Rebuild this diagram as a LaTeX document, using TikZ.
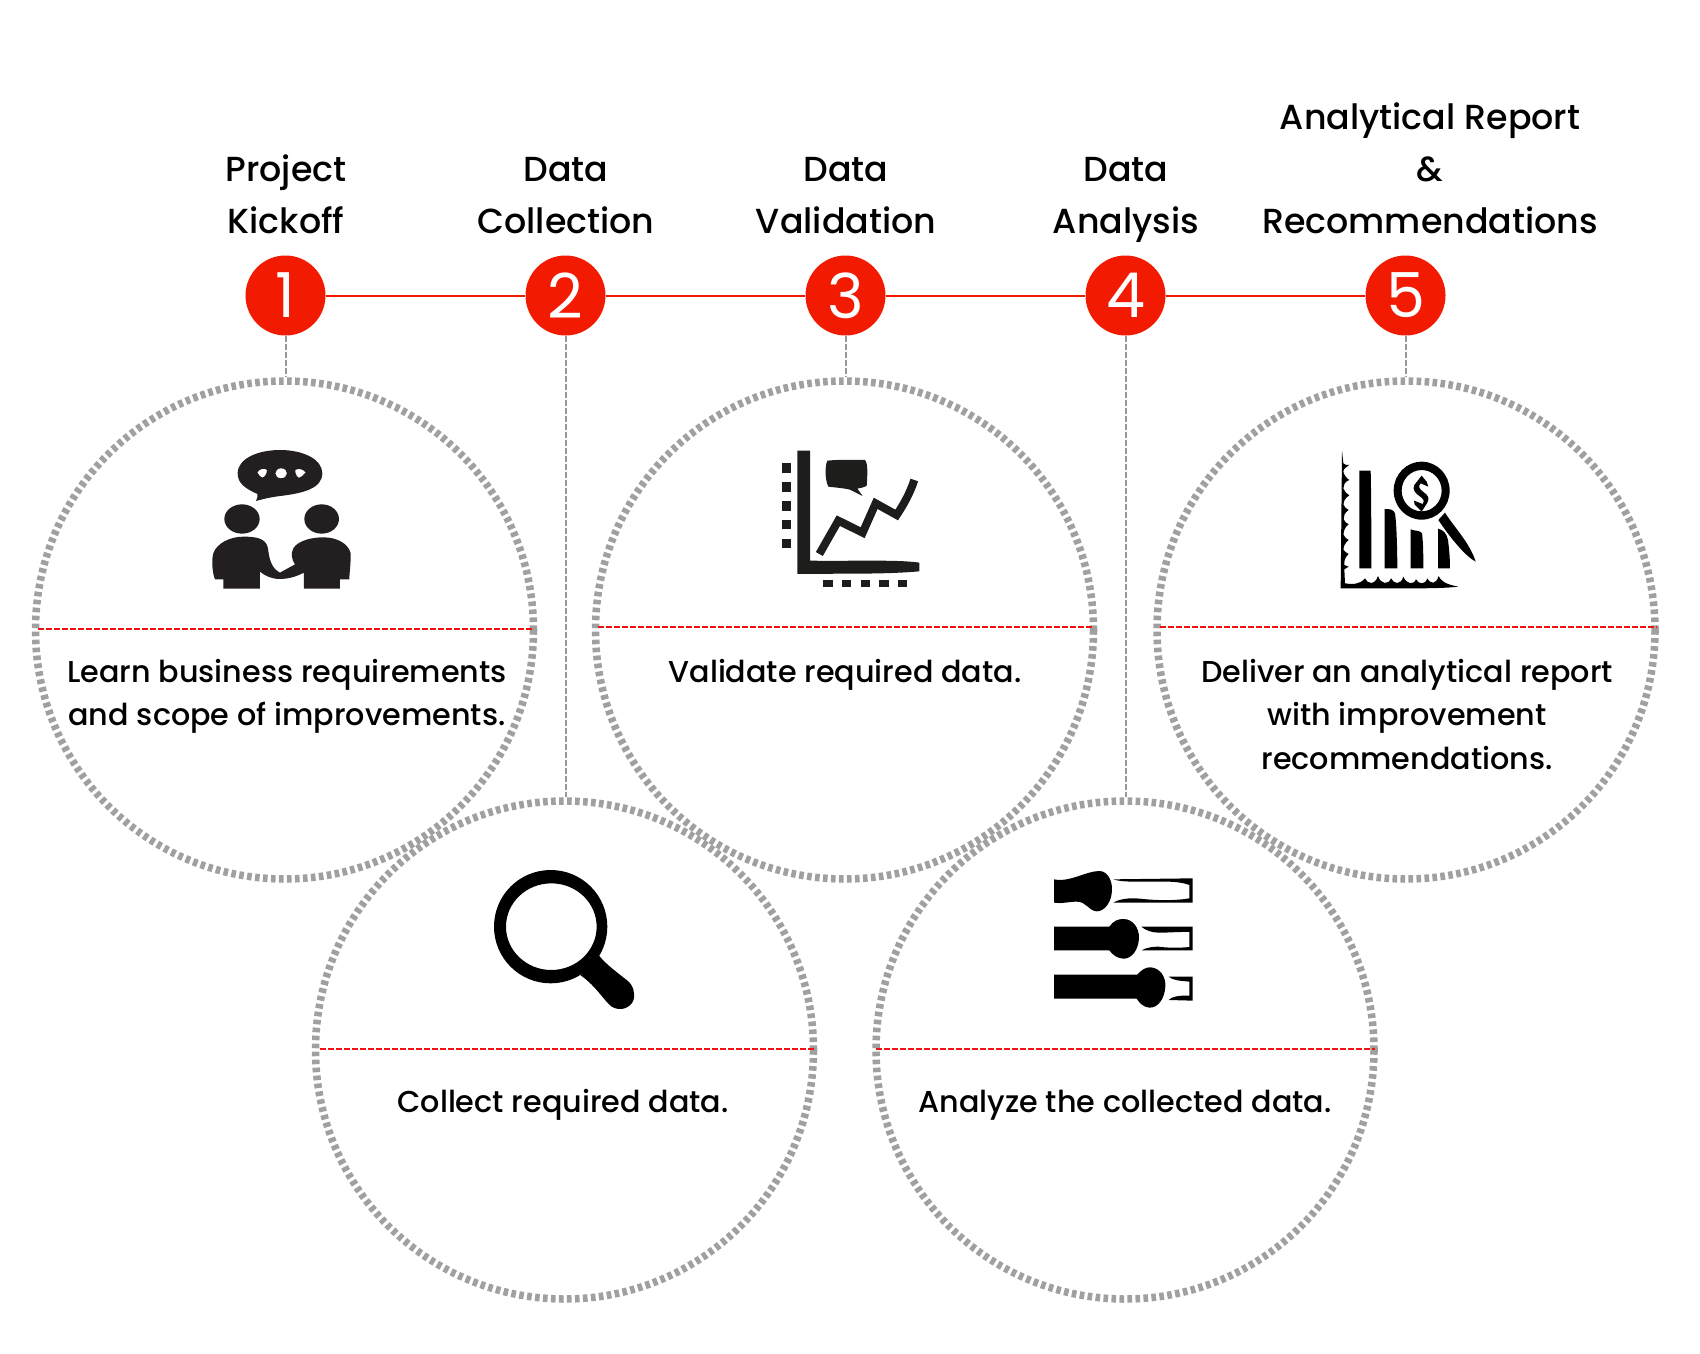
\documentclass[tikz,border=0pt]{standalone}
\usepackage{fontspec}
\setmainfont{Poppins Medium}
\newfontfamily\digitfont{Poppins}
\definecolor{redc}{HTML}{F21A00}
\definecolor{reddiv}{HTML}{F01010}
\definecolor{greyc}{HTML}{A0A0A0}
\definecolor{greyd}{HTML}{999999}
\definecolor{icona}{HTML}{231F20}
\definecolor{iconb}{HTML}{1D1D1B}
\tikzset{
 zoomed/.style={x=0.3333pt,y=-0.3333pt},
 bigring/.style={circle,minimum size=498pt,inner sep=0pt,draw=greyc,line width=7.5pt,dash pattern=on 4.6pt off 3.4pt},
 badge/.style={circle,minimum size=80pt,inner sep=0pt,fill=redc,text=white,font=\digitfont\fontsize{62}{62}\selectfont},
 titletext/.style={align=center,font=\fontsize{34.8}{52}\selectfont,inner sep=0pt,anchor=base},
 bodytext/.style={align=center,font=\fontsize{30.2}{43.5}\selectfont,inner sep=0pt,anchor=north},
 redline/.style={draw=redc,line width=2pt,yshift=-1.5pt},
 reddash/.style={draw=reddiv,line width=2pt,dash pattern=on 6pt off 2pt},
 greydash/.style={draw=greyd,line width=2pt,dash pattern=on 6pt off 2pt,xshift=-0.5pt}
}
\begin{document}
\begin{tikzpicture}[x=1pt,y=-1pt]
\useasboundingbox (0,0) rectangle (1700,1354);
\fill[white] (0,0) rectangle (1700,1354);
% badges
\node[badge] (b1) at (285.5,295.5) {1};
\node[badge] (b2) at (565.5,295.5) {2};
\node[badge] (b3) at (845.5,295.5) {3};
\node[badge] (b4) at (1125.5,295.5) {4};
\node[badge] (b5) at (1405.5,295.5) {5};
\draw[redline] (b1) -- (b2);
\draw[redline] (b2) -- (b3);
\draw[redline] (b3) -- (b4);
\draw[redline] (b4) -- (b5);
% rings
\node[bigring] (c1) at (284.5,630) {};
\node[bigring] (c3) at (844.5,630) {};
\node[bigring] (c5) at (1406,630) {};
\node[bigring] (c2) at (564.5,1050) {};
\node[bigring] (c4) at (1125,1050) {};
\draw[greydash] (b1.south) -- (b1.south|-c1.north);
\draw[greydash] (b2.south) -- (b2.south|-c2.north);
\draw[greydash] (b3.south) -- (b3.south|-c3.north);
\draw[greydash] (b4.south) -- (b4.south|-c4.north);
\draw[greydash] (b5.south) -- (b5.south|-c5.north);
% dividers
\coordinate (d1a) at (38,629); \coordinate (d1b) at (533,629);
\coordinate (d3a) at (598,627); \coordinate (d3b) at (1093,627);
\coordinate (d5a) at (1160,627); \coordinate (d5b) at (1657,627);
\coordinate (d2a) at (320,1049); \coordinate (d2b) at (815,1049);
\coordinate (d4a) at (876,1049); \coordinate (d4b) at (1375,1049);
\draw[reddash] (d1a) -- (d1b);
\draw[reddash] (d3a) -- (d3b);
\draw[reddash] (d5a) -- (d5b);
\draw[reddash] (d2a) -- (d2b);
\draw[reddash] (d4a) -- (d4b);
% titles
\node[titletext] (t1) at (286,233) {Project\\Kickoff};
\node[titletext] (t2) at (566,233) {Data\\Collection};
\node[titletext] (t3) at (846,233) {Data\\Validation};
\node[titletext] (t4) at (1126,233) {Data\\Analysis};
\node[titletext] (t5) at (1430,233) {Analytical Report\\\&\\Recommendations};
% body
\node[bodytext] (x1) at (287,659) {Learn business requirements\\and scope of improvements.};
\node[bodytext] (x3) at (845,659) {Validate required data.};
\node[bodytext] (x5) at (1407,659) {Deliver an analytical report\\with improvement\\recommendations.};
\node[bodytext] (x2) at (563,1089) {Collect required data.};
\node[bodytext] (x4) at (1125,1090) {Analyze the collected data.};
% icon 1
\begin{scope}[shift={(180,420)},zoomed,fill=icona]
\fill[even odd rule] (228,243) .. controls (232,235) and (234,228) .. (232,222) .. controls (195,205) and (173,190) .. (173,160)
 .. controls (173,115) and (235,90) .. (300,90) .. controls (370,90) and (427,118) .. (427,160)
 .. controls (427,205) and (370,220) .. (300,228) .. controls (270,232) and (245,238) .. (228,243) -- cycle
 (232,157) .. controls (240,145) and (255,143) .. (261,150) .. controls (261,160) and (255,172) .. (246,173) .. controls (240,170) and (235,163) .. (232,157) -- cycle
 (303,145) .. controls (315,145) and (321,152) .. (321,160) .. controls (321,168) and (313,175) .. (303,175) .. controls (293,175) and (286,168) .. (286,160) .. controls (286,152) and (293,145) .. (303,145) -- cycle
 (346,150) .. controls (355,143) and (370,148) .. (377,157) .. controls (372,165) and (362,173) .. (356,173) .. controls (350,170) and (345,160) .. (346,150) -- cycle;
\fill (186,297) ellipse [x radius=53,y radius=44];
\fill (425,297) ellipse [x radius=52,y radius=44];
\fill (130,506) -- (130,478) -- (105,478) .. controls (97,460) and (94,420) .. (100,400)
 .. controls (110,370) and (150,350) .. (190,350) .. controls (230,350) and (258,355) .. (264,385)
 .. controls (268,420) and (275,445) .. (300,458) -- (345,433) .. controls (335,420) and (332,400) .. (340,385)
 .. controls (355,360) and (400,352) .. (430,352) .. controls (470,352) and (505,370) .. (512,400)
 .. controls (513,430) and (508,460) .. (508,478) -- (480,478) -- (480,506) -- (372,506) -- (372,458)
 .. controls (345,472) and (320,477) .. (300,477) .. controls (275,477) and (255,468) .. (240,455) -- (240,506) -- cycle;
\end{scope}
% icon 3
\begin{scope}[shift={(750,430)},zoomed,fill=iconb]
\fill (142,62) -- (180,62) -- (180,392) .. controls (300,394) and (440,388) .. (508,398) -- (508,424) .. controls (400,434) and (250,430) .. (142,432) -- cycle;
\foreach \ya/\yb in {100/130,157/185,214/243,270/298,328/355} \fill (96,\ya) rectangle (123,\yb);
\foreach \xa/\xb in {218/249,275/302,333/360,387/417,444/471} \fill (\xa,451) rectangle (\xb,472);
\draw[iconb,line width=8pt,miter limit=10] (208,372) -- (265,272) -- (338,308) -- (377,220) -- (440,255) .. controls (460,225) and (480,190) .. (493,150);
\fill (232,92) .. controls (270,88) and (320,90) .. (345,90) .. controls (355,100) and (352,140) .. (350,168) .. controls (340,172) and (330,175) .. (322,176) -- (338,198) -- (300,179) .. controls (280,174) and (250,172) .. (235,170) .. controls (225,150) and (224,110) .. (232,92) -- cycle;
\end{scope}
% icon 5
\begin{scope}[shift={(1310,430)},zoomed]
\fill (96,62) -- (100,100) .. controls (104,106) and (112,106) .. (118,104) .. controls (110,112) and (100,115) .. (100,125) .. controls (102,135) and (110,145) .. (118,150)
 .. controls (104,155) and (100,165) .. (100,175) .. controls (102,185) and (110,190) .. (118,196)
 .. controls (104,205) and (100,215) .. (101,225) .. controls (103,232) and (110,236) .. (116,240)
 .. controls (104,248) and (100,258) .. (101,268) .. controls (103,275) and (110,280) .. (116,283)
 .. controls (104,292) and (100,305) .. (101,315) .. controls (103,322) and (110,326) .. (116,330)
 .. controls (104,340) and (100,350) .. (101,360) .. controls (103,365) and (110,368) .. (116,372)
 .. controls (104,382) and (102,395) .. (103,405) -- (116,410) -- (103,418) -- (105,460)
 .. controls (125,464) and (150,464) .. (165,445) .. controls (172,463) and (195,466) .. (204,438)
 .. controls (212,463) and (235,466) .. (243,445) .. controls (252,463) and (272,466) .. (280,440)
 .. controls (290,463) and (310,466) .. (318,448) .. controls (326,463) and (345,466) .. (352,445)
 .. controls (362,463) and (378,464) .. (386,438) .. controls (395,460) and (425,466) .. (445,470)
 .. controls (380,478) and (250,474) .. (92,475) -- cycle;
\fill (148,122) -- (182,122) .. controls (184,200) and (184,340) .. (184,415) -- (148,415) -- cycle;
\fill (224,237) .. controls (240,237) and (250,238) .. (255,250) .. controls (260,280) and (262,370) .. (262,415) -- (224,415) -- cycle;
\fill (302,298) .. controls (315,304) and (330,300) .. (336,310) .. controls (340,340) and (340,380) .. (340,415) -- (302,415) -- cycle;
\fill (384,296) .. controls (400,300) and (410,310) .. (414,330) .. controls (418,360) and (420,390) .. (420,415) -- (384,415) -- cycle;
\fill[even odd rule] (335,182) ellipse [x radius=84,y radius=87] (335,182) ellipse [x radius=60,y radius=62];
\fill (405,248) .. controls (435,295) and (480,340) .. (497,395) .. controls (465,378) and (420,322) .. (385,270) -- cycle;
\fill[black] (335,137) -- (350,155) -- (355,170) -- (332,160) .. controls (322,170) and (330,178) .. (340,186) .. controls (354,195) and (360,205) .. (352,218) -- (335,245) -- (314,224) -- (312,212) -- (338,222) .. controls (346,212) and (338,205) .. (328,198) .. controls (316,190) and (306,178) .. (313,165) -- cycle;
\end{scope}
% icon 2
\begin{scope}[shift={(470,850)},zoomed]
\fill[even odd rule] (242,230) ellipse [x radius=170,y radius=170] (244,230) ellipse [x radius=136,y radius=130];
\fill (388,318) .. controls (410,345) and (445,370) .. (470,390) .. controls (490,405) and (497,430) .. (490,452) .. controls (480,475) and (450,485) .. (425,470) .. controls (400,450) and (380,410) .. (332,376) -- (360,340) -- cycle;
\end{scope}
% icon 4
\begin{scope}[shift={(1030,850)},zoomed]
\fill (72,88) .. controls (120,98) and (170,62) .. (210,63) .. controls (235,65) and (247,95) .. (246,120) .. controls (245,155) and (225,184) .. (200,184) .. controls (175,182) and (170,155) .. (140,155) .. controls (115,155) and (95,162) .. (72,158) -- cycle;
\fill (250,88) -- (488,85) -- (488,158) -- (250,158) .. controls (270,146) and (300,143) .. (330,146) .. controls (380,152) and (440,152) .. (478,145) -- (478,105) .. controls (440,90) and (380,96) .. (330,95) .. controls (300,95) and (270,95) .. (250,88) -- cycle;
\fill (72,230) -- (238,230) .. controls (250,212) and (265,207) .. (280,207) .. controls (310,207) and (328,235) .. (327,265) .. controls (325,300) and (305,327) .. (280,326) .. controls (262,325) and (248,315) .. (238,301) -- (72,301) -- cycle;
\fill (334,230) -- (488,230) -- (488,301) -- (335,301) .. controls (350,292) and (370,290) .. (385,290) .. controls (415,294) and (450,294) .. (478,291) -- (478,246) .. controls (450,245) and (420,248) .. (385,248) .. controls (365,248) and (345,240) .. (334,230) -- cycle;
\fill (72,374) -- (322,374) .. controls (335,358) and (350,351) .. (362,352) .. controls (390,354) and (408,380) .. (406,410) .. controls (404,445) and (385,474) .. (358,473) .. controls (340,472) and (328,458) .. (320,446) -- (72,446) -- cycle;
\fill (416,380) -- (488,380) -- (488,452) -- (416,450) .. controls (425,440) and (445,436) .. (478,437) -- (478,395) .. controls (450,392) and (430,392) .. (416,380) -- cycle;
\end{scope}
\end{tikzpicture}
\end{document}
